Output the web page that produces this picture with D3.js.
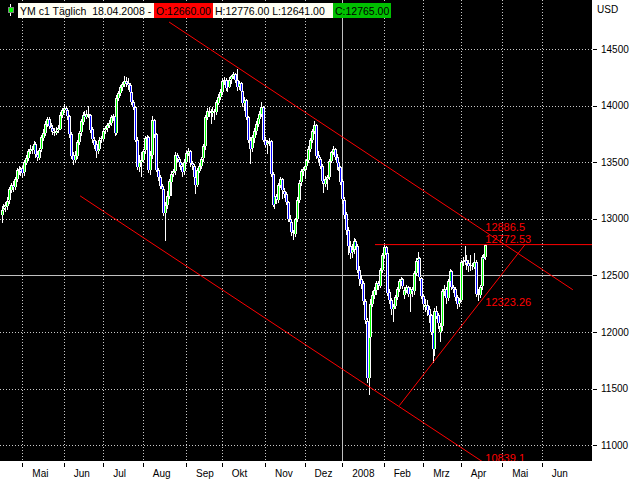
<!DOCTYPE html>
<html>
<head>
<meta charset="utf-8">
<title>YM c1 Täglich</title>
<script src="https://cdn.jsdelivr.net/npm/d3@7/dist/d3.min.js"></script>
<style>
  body { margin: 0; background: #fff; }
  svg { display: block; font-family: "Liberation Sans", Arial, sans-serif; }
  text { white-space: pre; }
</style>
</head>
<body>
<svg id="chart" width="640" height="480"></svg>
<script>
// daily bars YM c1, 16.04.2007 - 18.04.2008 (one row per month)
var opens = [
  13040,13080,13100,13120,13160,13260,13300,13280,13350,13430,13440,
  13450,13410,13500,13540,13600,13620,13610,13660,13570,13540,13610,13720,13760,13840,13880,13820,13800,13770,13760,13780,13800,13920,
  13960,13980,13960,13910,13750,13560,13520,13560,13680,13760,13860,13920,13900,13930,13920,13790,13700,13660,13600,13620,13700,
  13710,13780,13800,13830,13850,13900,13910,13760,14070,14110,14160,14190,14220,14200,14180,14120,14030,13990,13700,13460,13500,
  13520,13600,13710,13720,13430,13560,13870,13750,13430,13370,13290,13260,13050,13120,13200,13330,13400,13420,13560,13530,13500,13470,13420,
  13500,13580,13600,13490,13470,13370,13300,13430,13470,13530,13640,13900,13950,13940,13930,13950,13940,14030,14080,
  14120,14220,14230,14160,14170,14230,14260,14280,14230,14170,14200,14130,14020,14050,13900,13700,13620,13720,13780,13840,13890,13930,13990,
  13700,13660,13680,13690,13400,13130,13200,13170,13300,13350,13250,13220,13150,13000,12970,12880,12870,13000,13170,13320,13420,
  13440,13470,13520,13620,13700,13780,13830,13560,13530,13470,13340,13310,13350,13370,13510,13590,13620,13550,13500,13460,
  13330,13170,13040,12900,12760,12700,12730,12800,12760,12550,12470,12430,12270,12100,11600,11960,12250,12330,12370,12430,12410,12550,
  12680,12750,12700,12350,12280,12200,12230,12310,12380,12450,12470,12330,12370,12400,12340,12380,12360,12520,12630,12650,12480,
  12320,12220,12240,12200,12150,12000,11850,12190,12150,12000,12050,12360,12380,12300,12450,12540,12400,12380,12310,12250,
  12280,12620,12630,12640,12610,12580,12590,12580,12620,12340,12330,12400,12660,12660
];
var highs = [
  13110,13130,13150,13190,13280,13320,13330,13370,13450,13470,13460,
  13470,13520,13560,13620,13650,13640,13690,13680,13600,13630,13740,13790,13860,13900,13900,13850,13830,13800,13810,13830,13940,13980,
  14010,14000,13970,13920,13770,13590,13600,13700,13780,13880,13940,13950,13960,14000,13930,13810,13720,13690,13660,13720,13730,
  13800,13820,13850,13870,13920,13930,13920,14090,14130,14180,14210,14260,14250,14240,14200,14140,14050,14000,13720,13560,13590,
  13620,13730,13740,13730,13600,13910,13880,13760,13450,13390,13310,13280,13150,13250,13350,13420,13440,13590,13580,13550,13520,13490,13530,
  13600,13630,13610,13510,13480,13390,13450,13490,13550,13660,13920,13980,13990,13970,13990,13970,14050,14100,14150,
  14240,14250,14240,14190,14250,14270,14300,14290,14320,14220,14210,14150,14080,14060,13910,13720,13740,13800,13860,13910,13950,14030,14000,
  13720,13700,13710,13700,13410,13230,13220,13320,13370,13360,13270,13240,13160,13030,12980,12900,13010,13190,13340,13440,13460,
  13490,13530,13640,13710,13790,13860,13840,13600,13550,13480,13370,13380,13390,13530,13600,13640,13630,13570,13510,13470,
  13350,13190,13060,12930,12800,12780,12830,12820,12780,12580,12500,12450,12290,12120,12000,12290,12360,12400,12450,12450,12570,12700,
  12775,12760,12710,12380,12300,12250,12330,12400,12470,12490,12480,12400,12420,12410,12400,12400,12540,12650,12710,12660,12490,
  12340,12290,12280,12230,12160,12020,12210,12230,12170,12080,12380,12420,12400,12470,12560,12550,12420,12400,12330,12300,
  12640,12660,12760,12680,12640,12680,12610,12700,12640,12380,12420,12680,12690,12776
];
var lows = [
  12970,13050,13070,13090,13140,13240,13250,13260,13330,13400,13390,
  13370,13390,13480,13520,13580,13580,13590,13550,13520,13530,13600,13700,13740,13820,13800,13780,13750,13740,13750,13770,13790,13900,
  13940,13930,13880,13720,13540,13480,13500,13540,13660,13740,13840,13880,13890,13900,13770,13680,13630,13550,13580,13610,13680,
  13700,13760,13780,13810,13830,13870,13740,13750,14050,14090,14140,14170,14170,14150,14100,14010,13970,13690,13440,13420,13380,
  13500,13580,13680,13410,13400,13540,13720,13420,13340,13270,13220,13030,12810,13100,13180,13210,13380,13400,13510,13470,13440,13380,13400,
  13490,13560,13470,13440,13340,13230,13290,13410,13450,13510,13620,13880,13910,13850,13910,13880,13930,14010,14060,
  14100,14190,14140,14130,14160,14200,14240,14210,14140,14150,14100,14000,13960,13880,13680,13490,13600,13680,13750,13820,13870,13910,13690,
  13640,13580,13650,13380,13110,13100,13140,13150,13280,13180,13190,13130,12980,12940,12860,12820,12850,12980,13150,13300,13390,
  13360,13440,13500,13600,13680,13760,13540,13510,13450,13320,13240,13290,13260,13350,13500,13570,13530,13440,13430,13310,
  13140,13010,12870,12690,12650,12660,12700,12730,12530,12420,12390,12250,12080,11560,11455,11900,12230,12300,12340,12380,12400,12530,
  12660,12680,12330,12260,12160,12100,12210,12290,12360,12430,12390,12300,12350,12320,12190,12320,12340,12500,12610,12460,12300,
  12200,12190,12150,12090,11980,11735,11800,12120,12040,11920,12020,12330,12260,12280,12420,12380,12350,12280,12210,12230,
  12270,12590,12600,12560,12540,12550,12560,12570,12320,12280,12310,12380,12620,12641
];
var closes = [
  13080,13100,13120,13160,13260,13300,13280,13350,13430,13440,13420,
  13410,13500,13540,13600,13620,13610,13660,13570,13540,13610,13720,13760,13840,13880,13820,13800,13770,13760,13780,13800,13920,13960,
  13980,13960,13910,13750,13560,13520,13560,13680,13760,13860,13920,13900,13930,13920,13790,13700,13660,13600,13620,13700,13710,
  13780,13800,13830,13850,13900,13910,13760,14070,14110,14160,14190,14220,14200,14180,14120,14030,13990,13700,13460,13500,13520,
  13600,13710,13720,13430,13560,13870,13750,13430,13370,13290,13260,13050,13120,13200,13330,13400,13420,13560,13530,13500,13470,13420,13500,
  13580,13600,13490,13470,13370,13300,13430,13470,13530,13640,13900,13950,13940,13930,13950,13940,14030,14080,14120,
  14220,14230,14160,14170,14230,14260,14280,14230,14170,14200,14130,14020,14050,13900,13700,13620,13720,13780,13840,13890,13930,13990,13700,
  13660,13680,13690,13400,13130,13200,13170,13300,13350,13250,13220,13150,13000,12970,12880,12870,13000,13170,13320,13420,13440,
  13470,13520,13620,13700,13780,13830,13560,13530,13470,13340,13310,13350,13370,13510,13590,13620,13550,13500,13460,13330,
  13170,13040,12900,12760,12700,12730,12800,12760,12550,12470,12430,12270,12100,11600,11960,12250,12330,12370,12430,12410,12550,12680,
  12750,12700,12350,12280,12200,12230,12310,12380,12450,12470,12410,12370,12400,12340,12380,12360,12520,12630,12650,12480,12320,
  12250,12240,12200,12150,12000,11850,12190,12150,12080,12050,12360,12380,12300,12450,12540,12400,12380,12310,12250,12280,
  12620,12630,12640,12610,12580,12590,12580,12620,12340,12330,12400,12660,12640,12765
];

var monthLabels = ['Mai', 'Jun', 'Jul', 'Aug', 'Sep', 'Okt', 'Nov', 'Dez', '2008', 'Feb', 'Mrz', 'Apr', 'Mai', 'Jun'];
var priceTicks = [11000, 11500, 12000, 12500, 13000, 13500, 14000, 14500];
var holidays = ['2007-05-28', '2007-07-04', '2007-09-03', '2007-11-22', '2007-12-25', '2008-01-01', '2008-03-21', '2008-05-26'];

// drawn objects: [bar index, price]
var upperChannel = [[89, 14738], [303.5, 12374]];
var lowerChannel = [[41.7, 13203], [257, 10839.1], [270, 10696]];
var supportLine = [[211.3, 11350], [278.1, 12772.53]];
var resistLine = [[198.4, 12772.53], [330, 12772.53]];
var lineValues = [12886.5, 12772.53, 12323.26, 10839.1];
var crossPrice = 12500;

var svg = d3.select('#chart');
var plotW = 592, plotH = 461;

// trading calendar for the time axis
var fmt = d3.timeFormat('%Y-%m-%d');
var days = [];
for (var d = new Date(2007, 3, 16); d <= new Date(2008, 5, 30); d.setDate(d.getDate() + 1)) {
  var wd = d.getDay();
  if (wd > 0 && wd < 6 && holidays.indexOf(fmt(d)) < 0) days.push(new Date(d));
}
var monthStarts = [];
for (var i = 1; i < days.length; i++) {
  if (days[i].getMonth() != days[i - 1].getMonth()) monthStarts.push(i);
}

var n = closes.length;
var x = d3.scaleLinear().domain([0, n - 1]).range([1.6, 1.6 + (n - 1) * 1.882]);
var y = d3.scaleLinear().domain([11000, 14500]).range([445.3, 49]);

svg.append('rect').attr('width', 640).attr('height', 480).attr('fill', '#fff');
svg.append('rect').attr('width', plotW).attr('height', plotH).attr('fill', '#000');

svg.append('clipPath').attr('id', 'plot')
  .append('rect').attr('width', plotW).attr('height', plotH);

var plot = svg.append('g').attr('clip-path', 'url(#plot)').attr('shape-rendering', 'crispEdges');

// grid
var yearIdx = monthStarts[monthLabels.indexOf('2008')];
plot.selectAll('.vgrid')
  .data(monthStarts.filter(m => m != yearIdx))
  .enter().append('line')
  .attr('x1', d => Math.round(x(d)) + 0.5).attr('x2', d => Math.round(x(d)) + 0.5)
  .attr('y1', 0).attr('y2', plotH)
  .attr('stroke', '#c8c8c8').attr('stroke-dasharray', '1,2');

plot.selectAll('.hgrid')
  .data(priceTicks.filter(p => p != crossPrice))
  .enter().append('line')
  .attr('x1', 0).attr('x2', plotW)
  .attr('y1', d => Math.round(y(d)) + 0.5).attr('y2', d => Math.round(y(d)) + 0.5)
  .attr('stroke', '#c8c8c8').attr('stroke-dasharray', '1,2');

plot.append('line')
  .attr('x1', 0).attr('x2', plotW)
  .attr('y1', Math.round(y(crossPrice)) + 0.5).attr('y2', Math.round(y(crossPrice)) + 0.5)
  .attr('stroke', '#c0c0c0');
plot.append('line')
  .attr('x1', Math.round(x(yearIdx)) + 0.5).attr('x2', Math.round(x(yearIdx)) + 0.5)
  .attr('y1', 0).attr('y2', plotH)
  .attr('stroke', '#c0c0c0');

// candles: white outline and wick first, green / blue cores on top
var idx = d3.range(n);
var bodyTop = i => Math.round(y(Math.max(opens[i], closes[i])));
var bodyH = i => Math.round(Math.abs(y(opens[i]) - y(closes[i])));

plot.selectAll('.wick')
  .data(idx)
  .enter().append('line')
  .attr('x1', i => Math.round(x(i)) + 0.5).attr('x2', i => Math.round(x(i)) + 0.5)
  .attr('y1', i => Math.round(y(highs[i]))).attr('y2', i => Math.round(y(lows[i])) + 1)
  .attr('stroke', '#fff');

plot.selectAll('.body')
  .data(idx)
  .enter().append('rect')
  .attr('x', i => Math.round(x(i)) - 1).attr('width', 3)
  .attr('y', bodyTop)
  .attr('height', i => Math.max(1, bodyH(i)))
  .attr('fill', '#fff');

plot.selectAll('.core')
  .data(idx.filter(i => bodyH(i) >= 2))
  .enter().append('rect')
  .attr('x', i => Math.round(x(i))).attr('width', 1)
  .attr('y', i => bodyTop(i) + 1)
  .attr('height', i => bodyH(i) - 1)
  .attr('fill', i => closes[i] >= opens[i] ? '#00ff00' : '#0000ff');

// trend lines
var line = d3.line().x(d => x(d[0])).y(d => y(d[1]));
var objects = plot.append('g').attr('shape-rendering', 'auto');
[upperChannel, lowerChannel, supportLine, resistLine].forEach(pts => {
  objects.append('path')
    .attr('d', line(pts))
    .attr('fill', 'none')
    .attr('stroke', '#ff0000')
    .attr('stroke-width', 1);
});

var labelShift = [-1, -1.5, 11, -2];
objects.selectAll('.lbl')
  .data(lineValues)
  .enter().append('text')
  .attr('x', x(n - 1))
  .attr('y', (d, k) => y(d) + labelShift[k])
  .attr('fill', '#ff0000')
  .attr('font-size', 11)
  .text(d => String(d));

// price axis
var axisR = svg.append('g').attr('shape-rendering', 'crispEdges');
axisR.selectAll('.tick')
  .data(priceTicks)
  .enter().append('line')
  .attr('x1', 593).attr('x2', 597)
  .attr('y1', d => Math.round(y(d)) + 0.5).attr('y2', d => Math.round(y(d)) + 0.5)
  .attr('stroke', '#000');
svg.selectAll('.plab')
  .data(priceTicks)
  .enter().append('text')
  .attr('x', 601).attr('y', d => y(d) + 3.5)
  .attr('font-size', 10).attr('fill', '#000')
  .text(d => d);
svg.append('text').attr('x', 597).attr('y', 13)
  .attr('font-size', 10).attr('fill', '#000').text('USD');

// time axis
var axisB = svg.append('g').attr('shape-rendering', 'crispEdges');
axisB.selectAll('.tick')
  .data(monthStarts)
  .enter().append('line')
  .attr('x1', d => Math.round(x(d)) + 0.5).attr('x2', d => Math.round(x(d)) + 0.5)
  .attr('y1', 463).attr('y2', 467)
  .attr('stroke', '#000');
svg.selectAll('.mlab')
  .data(monthStarts)
  .enter().append('text')
  .attr('x', d => x(d) + 10).attr('y', 477)
  .attr('font-size', 10).attr('fill', '#000')
  .text((d, k) => monthLabels[k]);

// header
var last = n - 1;
var dateText = d3.timeFormat('%d.%m.%Y')(days[last]);
var head = [
  { x: 18, w: 136, fill: '#fffff4', text: 'YM c1 Täglich  ' + dateText + ' - ' },
  { x: 154, w: 59, fill: '#ff0000', text: 'O:' + opens[last].toFixed(2) },
  { x: 213, w: 120, fill: '#fffff4', text: 'H:' + highs[last].toFixed(2) + ' L:' + lows[last].toFixed(2) },
  { x: 333, w: 58, fill: '#00c000', text: 'C:' + closes[last].toFixed(2) }
];
var hg = svg.append('g');
hg.selectAll('rect').data(head).enter().append('rect')
  .attr('x', d => d.x).attr('y', 3).attr('width', d => d.w).attr('height', 15)
  .attr('fill', d => d.fill);
hg.selectAll('text').data(head).enter().append('text')
  .attr('x', d => d.x + 2).attr('y', 14.5)
  .attr('font-size', 10.5).attr('fill', '#000')
  .text(d => d.text);

// little candle icon
var icon = svg.append('g').attr('shape-rendering', 'crispEdges');
icon.append('line').attr('x1', 10.5).attr('x2', 10.5).attr('y1', 4).attr('y2', 16).attr('stroke', '#fff');
icon.append('rect').attr('x', 8).attr('y', 7).attr('width', 5).attr('height', 5)
  .attr('fill', '#00ff00').attr('stroke', '#808080');
</script>
</body>
</html>
